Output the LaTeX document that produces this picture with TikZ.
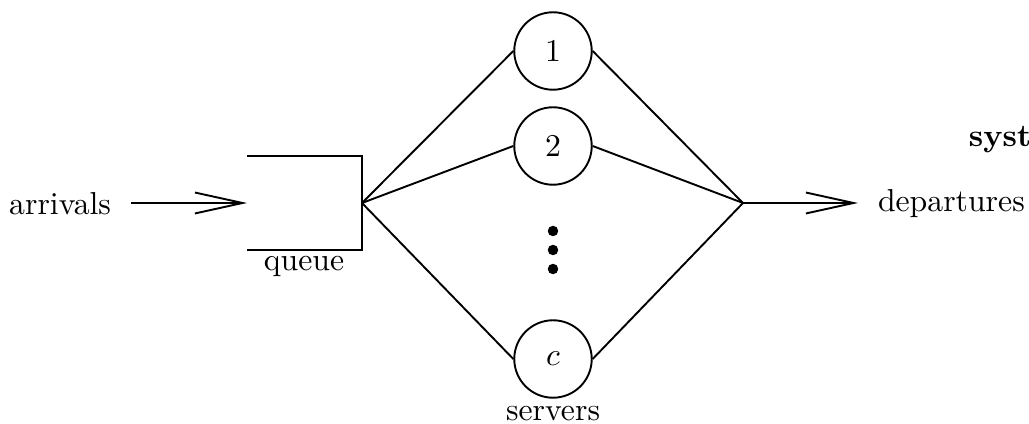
\documentclass[tikz,border=0pt]{standalone}
\usetikzlibrary{arrows.meta}
\begin{document}
\begin{tikzpicture}[x=0.315pt,y=-0.315pt,
  line width=0.6pt,
  server/.style={draw,circle,minimum size=24.4pt,inner sep=0pt,line width=0.6pt},
  flow/.style={-{Straight Barb[length=15pt,width=6.6pt,line width=0.6pt]}},
  label/.style={inner sep=0pt},
  dot/.style={fill,circle,minimum size=3.3pt,inner sep=0pt}]
\useasboundingbox (0,0) rectangle (1029,424);

% input side
\node[label,inner xsep=6pt,anchor=base east] (arrivals) at (131,215) {arrivals};
\coordinate (qin) at (247,203);
\draw[flow] (arrivals.east |- qin) -- (qin);

% the queue
\coordinate (qtl) at (247,156);
\coordinate (qtr) at (362,156);
\coordinate (qbr) at (362,250);
\coordinate (qbl) at (247,250);
\coordinate (fan) at (362,203);
\draw[line width=0.8pt] (qtl) -- (qtr) -- (qbr) -- (qbl);
\node[label,anchor=base] (queue) at (304,271) {queue};

% servers
\node[server] (s1) at (553,51) {1};
\node[server] (s2) at (553,146) {2};
\node[server] (sc) at (553,359) {$c$};
\node[dot] (d1) at (553,231) {};
\node[dot] (d2) at (553,250) {};
\node[dot] (d3) at (553,269) {};
\node[label,anchor=base] (servers) at (553,421) {servers};

% routing to and from the servers
\coordinate (join) at (743,203);
\foreach \s in {s1,s2,sc}{
  \draw (fan) -- (\s.west);
  \draw (\s.east) -- (join);
}

% output side
\node[label,inner xsep=6pt,anchor=base west] (departures) at (858,212) {departures};
\draw[flow] (join) -- (join -| departures.west);

\node[label,anchor=base west] (system) at (968,147) {\textbf{syst}};
\end{tikzpicture}
\end{document}
